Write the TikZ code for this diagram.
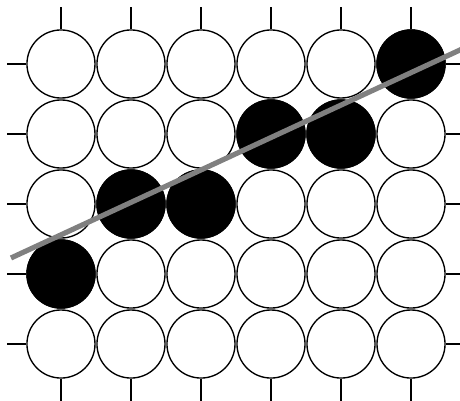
\documentclass[tikz,border=0pt]{standalone}
\usepackage{tikz}
\usetikzlibrary{positioning}
\definecolor{stonegray}{RGB}{128,128,128}
\tikzset{
  stone/.style={circle, draw=black, fill=white, minimum size=0.972cm,
    inner sep=0pt, line width=0.55pt},
  blackstone/.style={stone, fill=black},
  tick/.style={line width=0.55pt, color=black},
  fitline/.style={line width=2.1pt, color=stonegray}
}
\begin{document}
\begin{tikzpicture}[x=1cm, y=-1cm]
  % Frame
  \useasboundingbox (-0.871, -0.914) rectangle (5.7, 4.814);
  \clip (-0.871, -0.914) rectangle (5.7, 4.814);

  % Stones
  \foreach \r in {0,...,4}
    \foreach \c in {0,...,5}
      \node[stone] (s-\r-\c) at (\c, \r) {};
  \foreach \r/\c in {0/5, 1/3, 1/4, 2/1, 2/2, 3/0}
    \node[blackstone] at (\c, \r) {};

  % Ticks
  \foreach \c in {0,...,5} {
    \draw[tick] (s-0-\c.north) -- ++(0, -0.32);
    \draw[tick] (s-4-\c.south) -- ++(0, 0.4);
  }
  \foreach \r in {0,...,4} {
    \draw[tick] (s-\r-0.west) -- ++(-0.28, 0);
    \draw[tick] (s-\r-5.east) -- ++(0.4, 0);
  }

  % Line
  \coordinate (lstart) at (-0.714, 2.771);
  \coordinate (lend) at (5.9, -0.293);
  \draw[fitline] (lstart) -- (lend);
\end{tikzpicture}
\end{document}
